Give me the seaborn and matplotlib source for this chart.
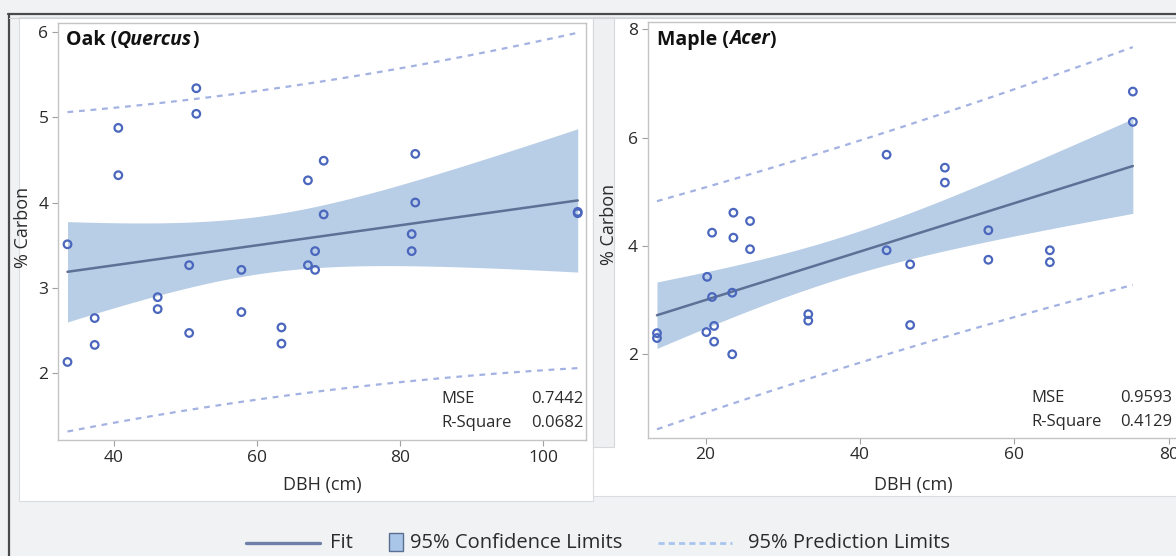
import numpy as np
import pandas as pd
import matplotlib
matplotlib.use("Agg")
import matplotlib.pyplot as plt
import seaborn as sns
from matplotlib.patches import Rectangle
from matplotlib.lines import Line2D

# ---------------- data ----------------
oak_dbh = [33.5, 33.5, 37.3, 37.3, 40.6, 40.6, 46.1, 46.1, 50.5, 50.5, 51.5, 51.5,
           57.8, 57.8, 63.4, 63.4, 67.1, 67.1, 68.1, 68.1, 69.3, 69.3, 81.6, 81.6,
           82.1, 82.1, 104.8, 104.8]
oak_carbon = [3.51, 2.13, 2.645, 2.33, 4.875, 4.32, 2.89, 2.75, 3.265, 2.47, 5.34, 5.04,
              3.21, 2.715, 2.535, 2.345, 4.26, 3.265, 3.43, 3.21, 4.49, 3.86, 3.63, 3.43,
              4.57, 4.0, 3.89, 3.875]
maple_dbh = [13.7, 13.7, 20.1, 20.2, 20.84, 20.84, 21.1, 21.1, 23.45, 23.45, 23.6, 23.6,
             25.76, 25.76, 33.3, 33.3, 43.45, 43.45, 46.5, 46.5, 51.0, 51.0, 56.63, 56.63,
             64.6, 64.6, 75.35, 75.35]
maple_carbon = [2.39, 2.30, 2.41, 3.43, 4.245, 3.058, 2.523, 2.233, 3.137, 2.0, 4.614, 4.153,
                4.46, 3.94, 2.74, 2.62, 5.685, 3.92, 3.66, 2.54, 5.445, 5.17, 4.29, 3.745,
                3.92, 3.70, 6.85, 6.29]
oak_title = ("Oak (", "Quercus", ")")
maple_title = ("Maple (", "Acer", ")")
oak_stats = [("MSE", "0.7442"), ("R-Square", "0.0682")]
maple_stats = [("MSE", "0.9593"), ("R-Square", "0.4129")]
oak_xticks = [40, 60, 80, 100]
oak_yticks = [2, 3, 4, 5, 6]
maple_xticks = [20, 40, 60, 80]
maple_yticks = [2, 4, 6, 8]
x_label = "DBH (cm)"
y_label = "% Carbon"
legend_labels = ["Fit", "95% Confidence Limits", "95% Prediction Limits"]
T_CRIT = 2.056  # t(0.975, 26)

# ---------------- style ----------------
sns.set_style("white")
plt.rcParams["font.family"] = ["Open Sans", "DejaVu Sans"]

W, H = 1176, 556
BG = "#f0f2f4"
PT_BLUE = "#4a67bd"
FIT_C = "#5d7096"
CI_C = "#b8cde6"
PRED_C = "#a3b2e2"
TXT = "#2b2b2b"

fig = plt.figure(figsize=(W / 100, H / 100), dpi=100, facecolor=BG)


def fx(px):
    return px / W


def fy(py):
    return 1 - py / H


def rect(x0, y0, x1, y1, fc, ec="none", lw=0.0, z=-5):
    fig.add_artist(Rectangle((fx(x0), fy(y1)), fx(x1) - fx(x0), fy(y0) - fy(y1),
                             transform=fig.transFigure, facecolor=fc, edgecolor=ec,
                             linewidth=lw, zorder=z))


# background panels
rect(19, 17, 593, 501, "white", "#dcdde0", 0.8)
rect(593, 17, 1180, 496, "white", "#dcdde0", 0.8)
rect(593, 17, 614, 447, "#eef0f2", "#d8d9dc", 0.8, z=-4)
# dark frame top and left
fig.add_artist(Line2D([fx(8), fx(1176)], [fy(13.5), fy(13.5)], transform=fig.transFigure,
                      color="#4a4a4a", lw=1.6, zorder=-3))
fig.add_artist(Line2D([fx(8.5), fx(8.5)], [fy(13.5), fy(556)], transform=fig.transFigure,
                      color="#4a4a4a", lw=1.6, zorder=-3))
fig.add_artist(Line2D([fx(9), fx(1176)], [fy(17.5), fy(17.5)], transform=fig.transFigure,
                      color="#d0d2d4", lw=0.8, zorder=-3))


def fit_bands(x, y):
    x = np.asarray(x, float)
    y = np.asarray(y, float)
    n = len(x)
    b, a = np.polyfit(x, y, 1)
    resid = y - (a + b * x)
    mse = resid @ resid / (n - 2)
    xs = np.linspace(x.min(), x.max(), 200)
    fit = a + b * xs
    sxx = ((x - x.mean()) ** 2).sum()
    se_m = np.sqrt(mse * (1 / n + (xs - x.mean()) ** 2 / sxx))
    se_p = np.sqrt(mse * (1 + 1 / n + (xs - x.mean()) ** 2 / sxx))
    return pd.DataFrame({"x": xs, "fit": fit,
                         "cl_lo": fit - T_CRIT * se_m, "cl_hi": fit + T_CRIT * se_m,
                         "pl_lo": fit - T_CRIT * se_p, "pl_hi": fit + T_CRIT * se_p})


def panel(rect_px, xs, ys, xlim, ylim, xticks, yticks, title, stats, stats_pos):
    x0, y0, x1, y1 = rect_px
    ax = fig.add_axes([fx(x0), fy(y1), fx(x1) - fx(x0), fy(y0) - fy(y1)])
    ax.set_facecolor("white")
    df = pd.DataFrame({"dbh": xs, "carbon": ys})
    bands = fit_bands(xs, ys)
    ax.fill_between(bands["x"], bands["cl_lo"], bands["cl_hi"], color=CI_C, lw=0, zorder=1)
    sns.lineplot(data=bands, x="x", y="fit", color=FIT_C, lw=1.8, ax=ax, zorder=3)
    for col in ("pl_lo", "pl_hi"):
        sns.lineplot(data=bands, x="x", y=col, color=PRED_C, lw=1.6,
                     linestyle=(0, (2.6, 2.6)), ax=ax, zorder=2)
    sns.scatterplot(data=df, x="dbh", y="carbon", marker="o", s=30,
                    facecolor="none", edgecolor=PT_BLUE, linewidth=1.6, ax=ax, zorder=4)
    ax.set_xlim(*xlim)
    ax.set_ylim(*ylim)
    ax.set_xticks(xticks)
    ax.set_yticks(yticks)
    ax.tick_params(axis="both", which="both", direction="out", length=4, width=0.8,
                   color="#a0a0a0", labelsize=12.5, labelcolor=TXT, pad=3.0,
                   bottom=True, left=True)
    for sp in ax.spines.values():
        sp.set_color("#c4c4c4")
        sp.set_linewidth(1.0)
    ax.set_xlabel(x_label, fontsize=13, color=TXT)
    ax.set_ylabel(y_label, fontsize=13, color=TXT)
    hpx = y1 - y0
    wpx = x1 - x0
    ax.xaxis.set_label_coords(0.5, -(485 - y1) / hpx)
    ax.xaxis.label.set_va("center")
    ax.yaxis.set_label_coords(-(x0 - stats_pos[4]) / wpx, (y1 - stats_pos[6]) / hpx)
    ax.yaxis.label.set_va("center")
    # title with italic genus
    t1 = ax.text((stats_pos[5] - x0) / wpx, (y1 - 39.5) / hpx, title[0], transform=ax.transAxes,
                 fontsize=14, fontweight="bold", color="#111111", va="center", ha="left", zorder=6)
    t2 = ax.annotate(title[1], xy=(1, 0), xycoords=t1, va="bottom", ha="left",
                     fontsize=14, fontweight="bold", fontstyle="italic", color="#111111", zorder=6)
    ax.annotate(title[2], xy=(1, 0), xycoords=t2, va="bottom", ha="left",
                fontsize=14, fontweight="bold", color="#111111", zorder=6)
    # stats
    lx, rx, ya, yb = stats_pos[:4]
    for (lab, val), yy in zip(stats, (ya, yb)):
        ax.text((lx - x0) / wpx, (y1 - yy) / hpx, lab, transform=ax.transAxes,
                fontsize=12, color=TXT, va="center", ha="left", zorder=6)
        ax.text((rx - x0) / wpx, (y1 - yy) / hpx, val, transform=ax.transAxes,
                fontsize=12, color=TXT, va="center", ha="right", zorder=6)
    return ax


panel((58.2, 23, 586.3, 440), oak_dbh, oak_carbon, (32.2, 106.0), (1.215, 6.105),
      oak_xticks, oak_yticks, oak_title, oak_stats, (441, 583, 399, 423, 23, 65.8, 227))
panel((647.7, 21.7, 1178, 437.7), maple_dbh, maple_carbon, (12.5, 81.2), (0.46, 8.14),
      maple_xticks, maple_yticks, maple_title, maple_stats, (1031, 1172, 398, 422, 609, 657, 224))

# ---------------- legend ----------------
LY = 543
LFS = 14.5
fig.add_artist(Line2D([fx(246), fx(320)], [fy(LY), fy(LY)], transform=fig.transFigure,
                      color="#6f7fa8", lw=2.4, zorder=5))
fig.text(fx(330), fy(LY), legend_labels[0], fontsize=LFS, color=TXT, va="center", ha="left")
fig.add_artist(Rectangle((fx(389), fy(551)), fx(403) - fx(389), fy(533) - fy(551),
                         transform=fig.transFigure, facecolor="#a9c6e8",
                         edgecolor="#5a6e90", lw=1.0, zorder=5))
fig.text(fx(410), fy(LY), legend_labels[1], fontsize=LFS, color=TXT, va="center", ha="left")
fig.add_artist(Line2D([fx(658), fx(732)], [fy(LY), fy(LY)], transform=fig.transFigure,
                      color="#a9c4ee", lw=2.0, linestyle=(0, (2.2, 1.5)), zorder=5))
fig.text(fx(748), fy(LY), legend_labels[2], fontsize=LFS, color=TXT, va="center", ha="left")

fig.savefig("out.png", dpi=100, facecolor=BG)
